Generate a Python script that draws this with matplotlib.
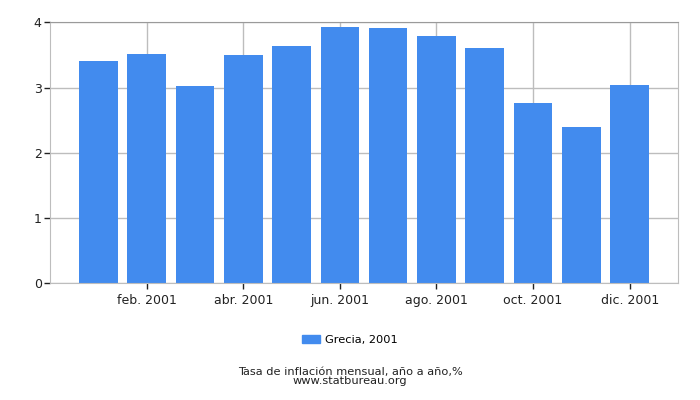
import matplotlib
matplotlib.use("Agg")
import matplotlib.pyplot as plt
from matplotlib.patches import Patch

months = ["ene. 2001", "feb. 2001", "mar. 2001", "abr. 2001", "may. 2001", "jun. 2001",
          "jul. 2001", "ago. 2001", "sep. 2001", "oct. 2001", "nov. 2001", "dic. 2001"]
values = [3.41, 3.52, 3.02, 3.50, 3.64, 3.93, 3.91, 3.79, 3.60, 2.76, 2.40, 3.04]
series_label = "Grecia, 2001"
title = "Tasa de inflación mensual, año a año,%"
source = "www.statbureau.org"

bar_color = "#428bee"
grid_color = "#bdbdbd"

fig = plt.figure(figsize=(7, 4), dpi=100)
ax = fig.add_axes([50 / 700, 1 - 283.3 / 400, 628 / 700, 261 / 400])

x = list(range(len(months)))
ax.bar(x, values, width=0.8, color=bar_color, zorder=2)

ax.set_xlim(-1, 12)
ax.set_ylim(0, 4)
ax.set_yticks([0, 1, 2, 3, 4])
ax.set_xticks(x[1::2])
ax.set_xticklabels(months[1::2])
ax.tick_params(axis="both", labelsize=9, labelcolor="#222222", color="#222222", length=4, width=1)
ax.tick_params(axis="x", pad=4)
ax.tick_params(axis="y", pad=2)
ax.grid(True, color=grid_color, linewidth=1, zorder=0)
for side in ["top", "right", "bottom", "left"]:
    ax.spines[side].set_color(grid_color)
ax.spines["top"].set_color("#9a9a9a")

fig.legend(handles=[Patch(color=bar_color, label=series_label)],
           loc="center", bbox_to_anchor=(0.5, 1 - 340 / 400), frameon=False,
           fontsize=8.2, handlelength=1.6, handleheight=0.7, handletextpad=0.4)
fig.text(0.5, 1 - 376.5 / 400, title + "\n" + source, ha="center", va="center",
         fontsize=8.2, color="#222222", linespacing=0.95)

fig.savefig("out.png", dpi=100)
